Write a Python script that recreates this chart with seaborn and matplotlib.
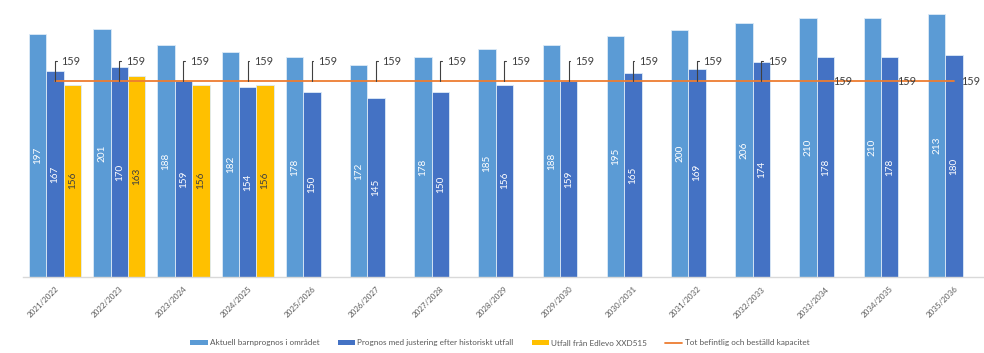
import numpy as np
import pandas as pd
import matplotlib
matplotlib.use("Agg")
import matplotlib.pyplot as plt
import seaborn as sns
from matplotlib.patches import Patch
from matplotlib.lines import Line2D

# --- data -------------------------------------------------------------
years = ["2021/2022", "2022/2023", "2023/2024", "2024/2025", "2025/2026",
         "2026/2027", "2027/2028", "2028/2029", "2029/2030", "2030/2031",
         "2031/2032", "2032/2033", "2033/2034", "2034/2035", "2035/2036"]
aktuell = [197, 201, 188, 182, 178, 172, 178, 185, 188, 195, 200, 206, 210, 210, 213]
justerad = [167, 170, 159, 154, 150, 145, 150, 156, 159, 165, 169, 174, 178, 178, 180]
utfall = [156, 163, 156, 156, None, None, None, None, None, None, None, None, None, None, None]
kapacitet = [159] * 15

series_names = ["Aktuell barnprognos i området",
                "Prognos med justering efter historiskt utfall",
                "Utfall från Edlevo XXD515"]
line_name = "Tot befintlig och beställd kapacitet"

colors = ["#5B9BD5", "#4472C4", "#FFC000"]
line_color = "#ED7D31"
text_dark = "#404040"

rows = []
for name, vals in zip(series_names, [aktuell, justerad, utfall]):
    for y, v in zip(years, vals):
        rows.append({"År": y, "Serie": name, "Antal": np.nan if v is None else v})
df = pd.DataFrame(rows)

# --- figure -----------------------------------------------------------
sns.set_theme(style="white")
plt.rcParams["font.family"] = ["Lato", "DejaVu Sans"]

fig = plt.figure(figsize=(9.84, 3.53), dpi=100)
ax = fig.add_axes([23 / 984, 76 / 353, 963 / 984, 271.4 / 353])

sns.barplot(data=df, x="År", y="Antal", hue="Serie", hue_order=series_names,
            order=years, palette=colors, saturation=1, width=0.81, gap=0,
            dodge=True, edgecolor="#DDEBF7", linewidth=0.6, errorbar=None,
            legend=False, ax=ax, zorder=2)

# value labels inside the bars
label_colors = ["white", "white", text_dark]
for cont, lc in zip(ax.containers, label_colors):
    labels = [f"{v:.0f}" if np.isfinite(v) else "" for v in cont.datavalues]
    ax.bar_label(cont, labels=labels, label_type="center", rotation=90,
                 color=lc, fontsize=7.2, zorder=4)

# capacity line
sns.lineplot(x=np.arange(len(years)), y=kapacitet, color=line_color,
             linewidth=1.3, ax=ax, zorder=3)

# capacity callouts
for i, v in enumerate(kapacitet):
    if i < 12:
        ax.annotate(f"{v}", xy=(i, v), xytext=(4.7, 14.2),
                    textcoords="offset points", ha="left", va="center",
                    fontsize=7.8, color=text_dark, zorder=5,
                    arrowprops=dict(arrowstyle="-", color=text_dark, lw=0.8,
                                    relpos=(0, 0.5), shrinkA=1.2, shrinkB=0,
                                    connectionstyle="angle,angleA=0,angleB=90,rad=0"))
    else:
        ax.annotate(f"{v}", xy=(i, v), xytext=(5.2, -0.8),
                    textcoords="offset points", ha="left", va="center",
                    fontsize=7.8, color=text_dark, zorder=5)

ax.set_xlim(-0.5, len(years) - 0.5)
ax.set_ylim(0, 220)
ax.set_xlabel("")
ax.set_ylabel("")
ax.set_yticks([])
ax.set_xticks(np.arange(len(years)))
ax.set_xticklabels(years, rotation=45, ha="right", rotation_mode="anchor",
                   fontsize=5.8, color="#595959")
ax.tick_params(axis="x", length=0, pad=6)
for s in ["top", "right", "left"]:
    ax.spines[s].set_visible(False)
ax.spines["bottom"].set_color("#D9D9D9")
ax.spines["bottom"].set_linewidth(1.0)

handles = [Patch(facecolor=c, edgecolor="none") for c in colors]
handles.append(Line2D([0], [0], color=line_color, lw=1.3))
fig.legend(handles, series_names + [line_name], loc="center",
           bbox_to_anchor=(500 / 984, 10 / 353), ncol=4, frameon=False,
           fontsize=5.9, handlelength=2.1, handleheight=0.6, handletextpad=0.3,
           columnspacing=2.2, labelcolor="#595959")

fig.savefig("out.png", dpi=100)
